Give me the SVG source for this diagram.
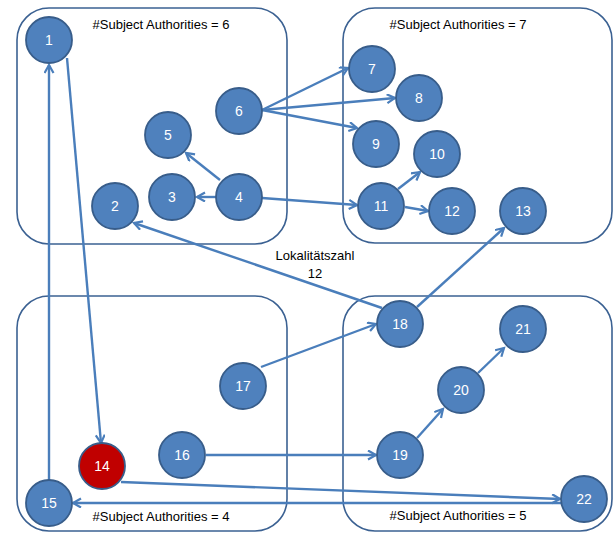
<svg xmlns="http://www.w3.org/2000/svg" width="614" height="533" viewBox="0 0 614 533">
<defs>
<marker id="arr" markerWidth="12" markerHeight="12" refX="9" refY="5" orient="auto" markerUnits="userSpaceOnUse">
<path d="M1,0.5 L9,5 L1,9.5" fill="none" stroke="#4A7EBB" stroke-width="2.2"/>
</marker>
<style>
.box{fill:none;stroke:#3B6192;stroke-width:1.6}
.n{fill:#4F81BD;stroke:#385D8A;stroke-width:1.8}
.r{fill:#C00000;stroke:#385D8A;stroke-width:1.8}
.nt{font-family:"Liberation Sans",Arial,sans-serif;font-size:14px;fill:#FFFFFF;text-anchor:middle}
.lbl{font-family:"Liberation Sans",Arial,sans-serif;font-size:13px;fill:#000000;text-anchor:middle}
.e{stroke:#4A7EBB;stroke-width:2.4;fill:none;marker-end:url(#arr)}
</style>
</defs>
<rect width="614" height="533" fill="#FFFFFF"/>
<g id="groups">
<rect class="box" x="17" y="8" width="270" height="236" rx="32" ry="32"/>
<rect class="box" x="343" y="8" width="269" height="235" rx="32" ry="32"/>
<rect class="box" x="17" y="296" width="270" height="235" rx="32" ry="32"/>
<rect class="box" x="343" y="296" width="269" height="235" rx="32" ry="32"/>
<text class="lbl" x="161" y="29">#Subject Authorities = 6</text>
<text class="lbl" x="458" y="29">#Subject Authorities = 7</text>
<text class="lbl" x="161" y="521">#Subject Authorities = 4</text>
<text class="lbl" x="458" y="520">#Subject Authorities = 5</text>
</g>
<g id="connectors">
<line class="e" x1="49" y1="481" x2="49" y2="65"/>
<line class="e" x1="67" y1="58" x2="101" y2="443"/>
<line class="e" x1="216" y1="197" x2="197" y2="197"/>
<line class="e" x1="220" y1="180" x2="186" y2="153"/>
<line class="e" x1="262" y1="198" x2="357" y2="205"/>
<line class="e" x1="262" y1="110" x2="348" y2="68"/>
<line class="e" x1="262" y1="110" x2="395" y2="98"/>
<line class="e" x1="262" y1="110" x2="357" y2="128"/>
<line class="e" x1="398" y1="189" x2="420" y2="172"/>
<line class="e" x1="405" y1="207" x2="428" y2="211"/>
<line class="e" x1="417" y1="307" x2="504" y2="228"/>
<line class="e" x1="382" y1="308" x2="134" y2="223"/>
<line class="e" x1="261" y1="367" x2="376" y2="324"/>
<line class="e" x1="206" y1="455" x2="376" y2="455"/>
<line class="e" x1="417" y1="438" x2="443" y2="409"/>
<line class="e" x1="478" y1="373" x2="504" y2="348"/>
<line class="e" x1="121" y1="482" x2="560" y2="499"/>
<line class="e" x1="561" y1="503" x2="73" y2="503"/>
<text class="lbl" x="315" y="260">Lokalitätszahl</text>
<text class="lbl" x="315" y="278">12</text>
</g>
<g id="n1"><circle class="n" cx="49" cy="40" r="23"/><text class="nt" x="49" y="45">1</text></g>
<g id="n2"><circle class="n" cx="115" cy="206" r="23"/><text class="nt" x="115" y="211">2</text></g>
<g id="n3"><circle class="n" cx="172" cy="197" r="23"/><text class="nt" x="172" y="202">3</text></g>
<g id="n4"><circle class="n" cx="239" cy="197" r="23"/><text class="nt" x="239" y="202">4</text></g>
<g id="n5"><circle class="n" cx="168" cy="135" r="23"/><text class="nt" x="168" y="140">5</text></g>
<g id="n6"><circle class="n" cx="239" cy="111" r="23"/><text class="nt" x="239" y="116">6</text></g>
<g id="n7"><circle class="n" cx="372" cy="69" r="23"/><text class="nt" x="372" y="74">7</text></g>
<g id="n8"><circle class="n" cx="419" cy="98" r="23"/><text class="nt" x="419" y="103">8</text></g>
<g id="n9"><circle class="n" cx="376" cy="144" r="23"/><text class="nt" x="376" y="149">9</text></g>
<g id="n10"><circle class="n" cx="437" cy="154" r="23"/><text class="nt" x="437" y="159">10</text></g>
<g id="n11"><circle class="n" cx="381" cy="206" r="23"/><text class="nt" x="381" y="211">11</text></g>
<g id="n12"><circle class="n" cx="452" cy="211" r="23"/><text class="nt" x="452" y="216">12</text></g>
<g id="n13"><circle class="n" cx="523" cy="211" r="23"/><text class="nt" x="523" y="216">13</text></g>
<g id="n14"><circle class="r" cx="102" cy="466" r="23"/><text class="nt" x="102" y="471">14</text></g>
<g id="n15"><circle class="n" cx="49" cy="503" r="23"/><text class="nt" x="49" y="508">15</text></g>
<g id="n16"><circle class="n" cx="182" cy="455" r="23"/><text class="nt" x="182" y="460">16</text></g>
<g id="n17"><circle class="n" cx="243" cy="386" r="23"/><text class="nt" x="243" y="391">17</text></g>
<g id="n18"><circle class="n" cx="400" cy="324" r="23"/><text class="nt" x="400" y="329">18</text></g>
<g id="n19"><circle class="n" cx="400" cy="455" r="23"/><text class="nt" x="400" y="460">19</text></g>
<g id="n20"><circle class="n" cx="461" cy="390" r="23"/><text class="nt" x="461" y="395">20</text></g>
<g id="n21"><circle class="n" cx="523" cy="329" r="23"/><text class="nt" x="523" y="334">21</text></g>
<g id="n22"><circle class="n" cx="584" cy="499" r="23"/><text class="nt" x="584" y="504">22</text></g>
</svg>
